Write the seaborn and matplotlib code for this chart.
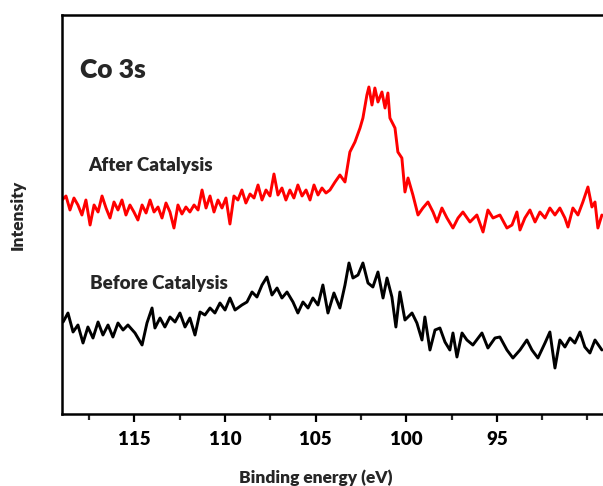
import matplotlib
matplotlib.use("Agg")
import matplotlib.pyplot as plt
import seaborn as sns
import pandas as pd
from matplotlib.ticker import MultipleLocator

# Binding energy (eV) and intensity (a.u.)
after_energy = [119.00, 118.78, 118.56, 118.34, 118.12, 117.90, 117.68, 117.45, 117.23, 117.01,
                116.79, 116.57, 116.35, 116.13, 115.91, 115.69, 115.47, 115.25, 115.03, 114.81,
                114.58, 114.36, 114.14, 113.92, 113.70, 113.48, 113.26, 113.04, 112.82, 112.60,
                112.38, 112.16, 111.94, 111.71, 111.49, 111.27, 111.05, 110.83, 110.61, 110.39,
                110.17, 109.95, 109.73, 109.51, 109.29, 109.07, 108.85, 108.62, 108.40, 108.18,
                107.96, 107.74, 107.52, 107.30, 107.08, 106.86, 106.64, 106.42, 106.20, 105.98,
                105.75, 105.53, 105.31, 105.09, 104.87, 104.65, 104.43, 104.21, 103.93, 103.66,
                103.38, 103.11, 102.83, 102.55, 102.39, 102.17, 102.06, 101.89, 101.73, 101.56,
                101.34, 101.17, 101.01, 100.90, 100.62, 100.46, 100.24, 100.07, 99.90, 99.63,
                99.35, 99.08, 98.80, 98.52, 98.30, 98.03, 97.75, 97.42, 97.14, 96.87,
                96.48, 96.10, 95.76, 95.49, 95.21, 94.83, 94.44, 94.16, 93.89, 93.72,
                93.45, 93.17, 92.89, 92.62, 92.34, 92.07, 91.79, 91.52, 91.24, 91.07,
                90.80, 90.52, 90.25, 89.97, 89.75, 89.58, 89.42, 89.20]
after_intensity = [214, 218, 204, 216, 209, 199, 214, 189, 209, 202,
                   218, 206, 196, 212, 204, 214, 199, 209, 202, 194,
                   209, 201, 214, 202, 207, 196, 211, 202, 186, 209,
                   200, 207, 202, 209, 204, 224, 206, 218, 202, 214,
                   206, 216, 190, 218, 214, 224, 211, 220, 216, 229,
                   214, 224, 218, 240, 219, 226, 214, 224, 216, 229,
                   218, 224, 214, 229, 219, 226, 221, 224, 232, 239,
                   232, 262, 272, 286, 296, 319, 327, 309, 326, 312,
                   322, 306, 321, 296, 286, 262, 256, 222, 236, 219,
                   199, 206, 212, 202, 192, 206, 196, 186, 196, 202,
                   192, 199, 182, 204, 196, 199, 186, 189, 202, 184,
                   196, 204, 192, 202, 196, 206, 199, 206, 196, 187,
                   206, 199, 212, 227, 207, 212, 186, 199]

before_energy = [118.94, 118.67, 118.39, 118.12, 117.84, 117.57, 117.29, 117.01, 116.74, 116.46,
                 116.19, 115.91, 115.63, 115.36, 114.97, 114.58, 114.31, 114.03, 113.87, 113.59,
                 113.32, 113.04, 112.76, 112.49, 112.21, 111.94, 111.66, 111.38, 111.11, 110.83,
                 110.56, 110.28, 110.00, 109.73, 109.45, 109.07, 108.79, 108.51, 108.24, 107.96,
                 107.69, 107.41, 107.13, 106.86, 106.58, 106.25, 105.98, 105.70, 105.42, 105.15,
                 104.87, 104.60, 104.32, 103.99, 103.66, 103.38, 103.16, 102.94, 102.66, 102.39,
                 102.11, 101.84, 101.56, 101.28, 101.06, 100.79, 100.57, 100.35, 100.07, 99.68,
                 99.41, 99.13, 98.97, 98.69, 98.41, 98.14, 97.86, 97.59, 97.42, 97.20,
                 96.92, 96.65, 96.32, 95.82, 95.49, 95.10, 94.83, 94.44, 94.11, 93.72,
                 93.34, 93.06, 92.73, 92.34, 92.07, 91.79, 91.52, 91.24, 90.96, 90.69,
                 90.41, 90.14, 89.86, 89.58, 89.20]
before_intensity = [92, 101, 82, 89, 71, 87, 76, 92, 79, 89,
                    77, 91, 84, 89, 81, 69, 91, 106, 86, 96,
                    87, 97, 92, 101, 87, 96, 79, 102, 99, 106,
                    101, 111, 104, 116, 104, 109, 112, 122, 117, 129,
                    137, 119, 126, 116, 122, 112, 101, 112, 106, 116,
                    109, 129, 101, 121, 106, 129, 151, 136, 139, 151,
                    131, 127, 142, 116, 136, 117, 87, 122, 94, 101,
                    91, 74, 97, 64, 84, 86, 72, 64, 81, 57,
                    81, 74, 69, 81, 66, 76, 77, 64, 56, 64,
                    74, 64, 56, 71, 82, 46, 74, 67, 76, 71,
                    82, 67, 61, 74, 64]

x_ticks = [115, 110, 105, 100, 95]
labels = ["Co 3s", "After Catalysis", "Before Catalysis"]

sns.set_style("ticks")
plt.rcParams['font.family'] = ['Lato', 'DejaVu Sans']

fig = plt.figure(figsize=(6.03, 4.86), dpi=100)
ax = fig.add_axes([62 / 603, (486 - 414) / 486, (605.5 - 62) / 603, 399 / 486])

df_after = pd.DataFrame({"energy": after_energy, "intensity": after_intensity})
df_before = pd.DataFrame({"energy": before_energy, "intensity": before_intensity})

sns.lineplot(data=df_after, x="energy", y="intensity", color="#ff0000", lw=2.1,
             estimator=None, sort=False, ax=ax)
sns.lineplot(data=df_before, x="energy", y="intensity", color="#000000", lw=2.1,
             estimator=None, sort=False, ax=ax)

ax.set_xlim(119, 89)
ax.set_ylim(0, 399)
ax.set_xticks(x_ticks)
ax.set_xticklabels([str(t) for t in x_ticks], fontweight="heavy", fontsize=13.5)
ax.xaxis.set_minor_locator(MultipleLocator(2.5))
ax.set_yticks([])
ax.tick_params(axis="x", which="major", direction="out", length=6, width=1.6, pad=6, colors="black")
ax.tick_params(axis="x", which="minor", direction="out", length=4, width=1.6)

for s in ["left", "bottom", "top", "right"]:
    ax.spines[s].set_visible(True)
    ax.spines[s].set_linewidth(1.8)
    ax.spines[s].set_color("black")

ax.set_xlabel("Binding energy (eV)", fontweight="heavy", fontsize=12.5)
ax.xaxis.set_label_coords(0.466, -0.14)
ax.set_ylabel("Intensity", fontweight="heavy", fontsize=12.5, labelpad=26)

ax.text(0.033, 0.862, labels[0], transform=ax.transAxes, fontsize=19, fontweight="heavy",
        va="center", ha="left")
ax.text(0.048, 0.624, labels[1], transform=ax.transAxes, fontsize=13.5, fontweight="heavy",
        va="center", ha="left")
ax.text(0.052, 0.328, labels[2], transform=ax.transAxes, fontsize=13.5, fontweight="heavy",
        va="center", ha="left")

fig.savefig("out.png", dpi=100)
